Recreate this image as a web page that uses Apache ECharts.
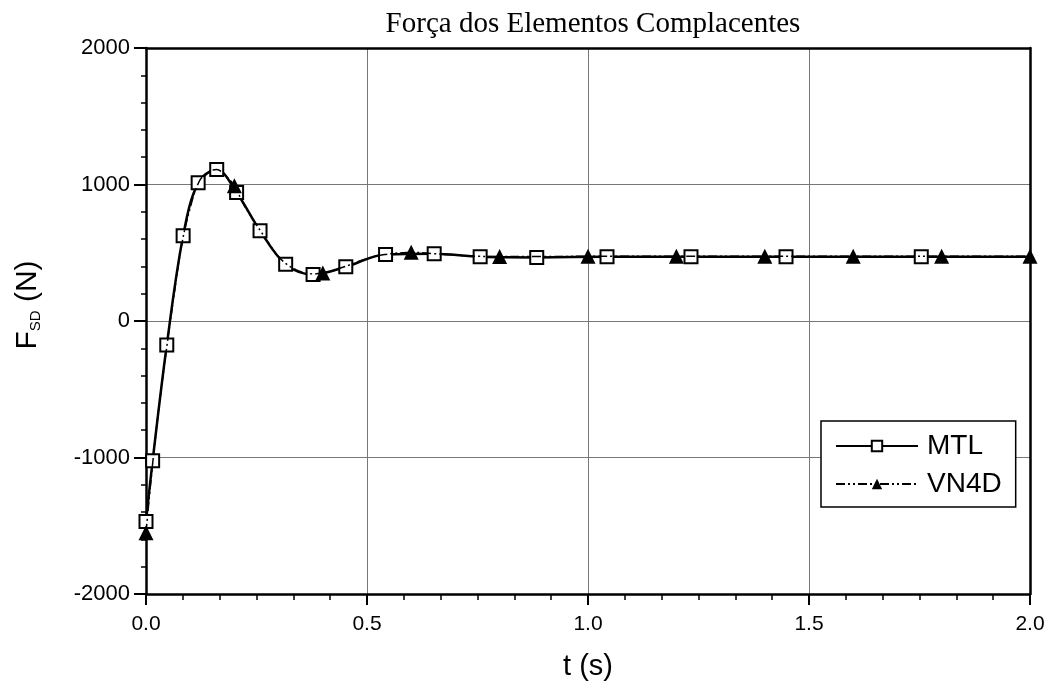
<!DOCTYPE html>
<html>
<head>
<meta charset="utf-8">
<script src="https://cdn.jsdelivr.net/npm/echarts@6/dist/echarts.min.js"></script>
<style>
html,body{margin:0;padding:0;background:#fff;}
#chart{width:1050px;height:688px;}
</style>
</head>
<body>
<div id="chart"></div>
<script>
// ---- data ----
var chartTitle = 'Força dos Elementos Complacentes';
var xTickLabels = ['0.0', '0.5', '1.0', '1.5', '2.0'];
var yTickLabels = ['-2000', '-1000', '0', '1000', '2000'];

// MTL (solid line, open squares)
var mtlT = [0, 0.015, 0.047, 0.084, 0.118, 0.160, 0.205, 0.258, 0.316, 0.378, 0.452, 0.542, 0.652, 0.756, 0.884, 1.043, 1.233, 1.448, 1.754, 2.0];
var mtlF = [-1468, -1024, -176, 624, 1012, 1110, 941, 661, 415, 341, 397, 488, 492, 470, 466, 470, 470, 470, 470, 470];
var mtlMarked = [1,1,1,1,1,1,1,1,1,1,1,1,1,1,1,1,1,1,1,0];

// VN4D (dash-dot line, filled triangles every 0.2 s)
var vnT = [0, 0.02, 0.04, 0.06, 0.08, 0.10, 0.12, 0.14, 0.16, 0.18, 0.20, 0.22, 0.24, 0.26, 0.28, 0.30, 0.32, 0.34, 0.36, 0.38, 0.40, 0.42, 0.44, 0.46, 0.48, 0.50, 0.52, 0.54, 0.56, 0.58, 0.60, 0.65, 0.70, 0.75, 0.80, 0.90, 1.00, 1.20, 1.40, 1.60, 1.80, 2.00];
var vnF = [-1551, -890, -360, 110, 545, 830, 1020, 1090, 1110, 1065, 990, 860, 755, 655, 560, 470, 412, 375, 352, 345, 352, 365, 388, 410, 435, 458, 475, 487, 495, 500, 503, 494, 482, 474, 472, 472, 474, 474, 474, 474, 474, 474];
var vnMarked = [1,0,0,0,0,0,0,0,0,0,1,0,0,0,0,0,0,0,0,0,1,0,0,0,0,0,0,0,0,0,1,0,0,0,1,0,1,1,1,1,1,1];

function build(ts, fs, marks) {
  return ts.map(function (t, i) {
    var item = { value: [t, fs[i]] };
    if (!marks[i]) item.symbol = 'none';
    return item;
  });
}

var chart = echarts.init(document.getElementById('chart'), null, { renderer: 'canvas' });

var sans = 'Liberation Sans, Arial, sans-serif';

var option = {
  backgroundColor: '#fff',
  animation: false,
  title: {
    text: chartTitle,
    left: 588,
    textAlign: 'center',
    top: 5,
    textStyle: { fontFamily: 'Liberation Serif, Times New Roman, serif', fontWeight: 'normal', fontSize: 29, color: '#000' }
  },
  grid: { left: 146, right: 20, top: 48, bottom: 94, containLabel: false },
  legend: {
    orient: 'vertical',
    left: 821,
    top: 421,
    padding: [10, 14, 8, 14],
    itemGap: 8,
    itemWidth: 82,
    itemHeight: 13,
    borderColor: '#000',
    borderWidth: 1.5,
    borderRadius: 0,
    backgroundColor: '#fff',
    data: ['MTL', 'VN4D'],
    textStyle: { fontSize: 28, lineHeight: 30, color: '#000', fontFamily: sans, padding: [0, 0, 0, 4] }
  },
  xAxis: [{
    type: 'value', min: 0, max: 2, interval: 0.5,
    name: 't (s)', nameLocation: 'middle', nameGap: 58,
    nameTextStyle: { fontSize: 29, color: '#000', fontFamily: sans },
    axisLine: { show: true, onZero: false, lineStyle: { color: '#000', width: 2.5 } },
    axisTick: { show: true, inside: false, length: 11, lineStyle: { color: '#000', width: 2 } },
    minorTick: { show: true, splitNumber: 6, length: 6, lineStyle: { color: '#000', width: 1.5 } },
    axisLabel: { color: '#000', fontFamily: sans, fontSize: 21, margin: 20, formatter: function (v) {
      var idx = Math.round(v / 0.5); return xTickLabels[idx] !== undefined ? xTickLabels[idx] : v.toFixed(1);
    } },
    splitLine: { show: true, lineStyle: { color: '#777', width: 1 } }
  }, {
    type: 'value', min: 0, max: 2, position: 'top',
    axisLine: { show: true, onZero: false, lineStyle: { color: '#000', width: 2.5 } },
    axisTick: { show: false }, axisLabel: { show: false }, splitLine: { show: false }
  }],
  yAxis: [{
    type: 'value', min: -2000, max: 2000, interval: 1000,
    name: '{a|F}{b|SD}{a| (N)}', nameLocation: 'middle', nameGap: 100, nameRotate: 90,
    nameTextStyle: {
      color: '#000',
      padding: [0, 0, 0, 32],
      rich: {
        a: { fontSize: 30, color: '#000', fontFamily: sans, lineHeight: 36, verticalAlign: 'middle' },
        b: { fontSize: 15, color: '#000', fontFamily: sans, lineHeight: 36, verticalAlign: 'bottom', padding: [0, 0, 3, 0] }
      }
    },
    axisLine: { show: true, onZero: false, lineStyle: { color: '#000', width: 2.5 } },
    axisTick: { show: true, inside: false, length: 12, lineStyle: { color: '#000', width: 2 } },
    minorTick: { show: true, splitNumber: 5, length: 5, lineStyle: { color: '#000', width: 1.5 } },
    axisLabel: { color: '#000', fontFamily: sans, fontSize: 22, margin: 16, formatter: function (v) {
      var idx = Math.round((v + 2000) / 1000); return yTickLabels[idx] !== undefined ? yTickLabels[idx] : String(v);
    } },
    splitLine: { show: true, lineStyle: { color: '#777', width: 1 } }
  }, {
    type: 'value', min: -2000, max: 2000, position: 'right',
    axisLine: { show: true, onZero: false, lineStyle: { color: '#000', width: 2.5 } },
    axisTick: { show: false }, axisLabel: { show: false }, splitLine: { show: false }
  }],
  series: [{
    name: 'MTL',
    type: 'line',
    xAxisIndex: 0, yAxisIndex: 0,
    smooth: 0.35,
    symbol: 'rect',
    symbolSize: 13,
    showAllSymbol: true,
    z: 3,
    lineStyle: { color: '#000', width: 2.5 },
    itemStyle: { color: '#fff', borderColor: '#000', borderWidth: 2 },
    data: build(mtlT, mtlF, mtlMarked)
  }, {
    name: 'VN4D',
    type: 'line',
    xAxisIndex: 0, yAxisIndex: 0,
    smooth: 0.35,
    symbol: 'triangle',
    symbolSize: 15,
    showAllSymbol: true,
    z: 4,
    lineStyle: { color: '#000', width: 1.5, type: [9, 3, 2, 3, 2, 3] },
    itemStyle: { color: '#000', borderColor: '#000', borderWidth: 0 },
    data: build(vnT, vnF, vnMarked)
  }]
};
chart.setOption(option);
</script>
</body>
</html>
